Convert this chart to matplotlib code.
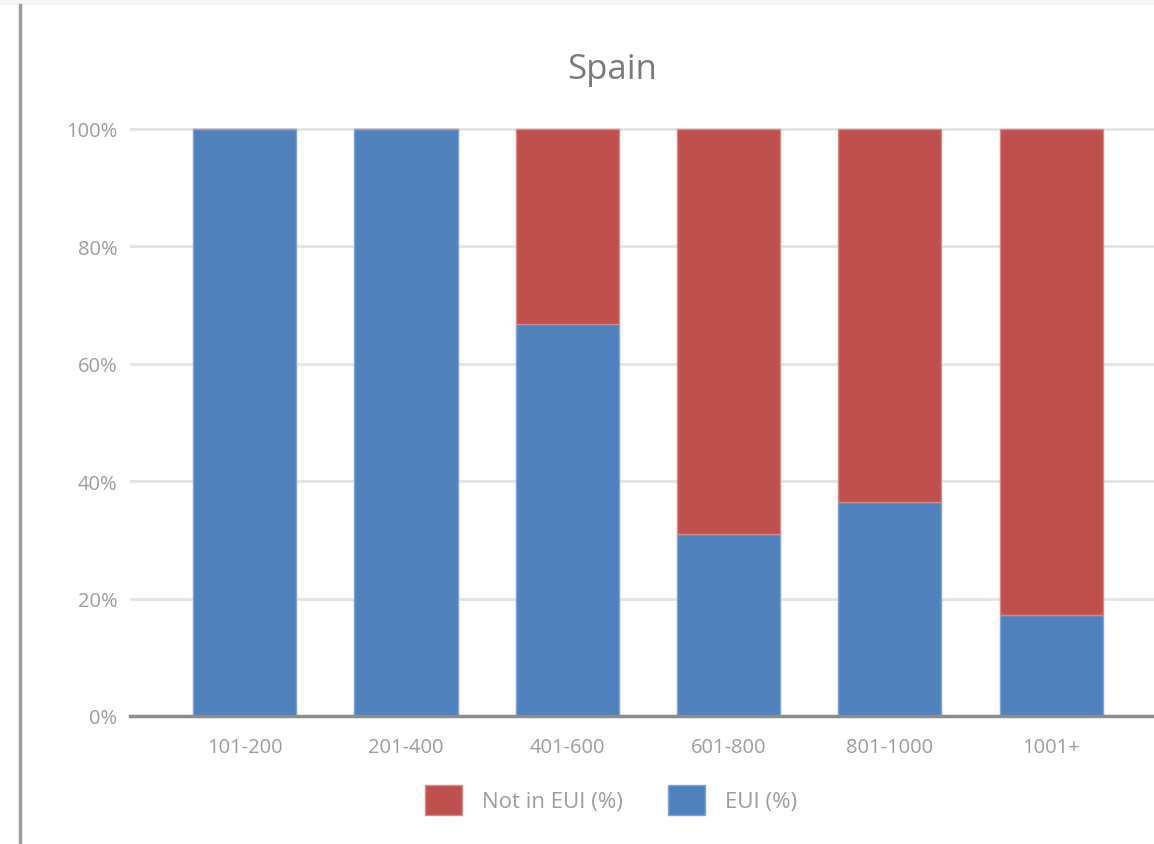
import matplotlib
matplotlib.use("Agg")
import matplotlib.pyplot as plt
from matplotlib.lines import Line2D
from matplotlib.patches import Rectangle
from matplotlib.ticker import FuncFormatter

plt.rcParams['font.family'] = ['Open Sans', 'DejaVu Sans']

categories = ["101-200", "201-400", "401-600", "601-800", "801-1000", "1001+"]
eui = [100.0, 100.0, 66.7, 31.0, 36.4, 17.2]
not_eui = [0.0, 0.0, 33.3, 69.0, 63.6, 82.8]
title = "Spain"
series_names = ["Not in EUI (%)", "EUI (%)"]
yticks = [0, 20, 40, 60, 80, 100]

W, H = 1154, 845
fig = plt.figure(figsize=(W / 100, H / 100), dpi=100)
fig.patch.set_facecolor("white")

# top strip and left border line
fig.add_artist(Rectangle((0, 839 / H), 1, 6 / H, transform=fig.transFigure,
                         facecolor="#f6f6f6", edgecolor="none"))
fig.add_artist(Line2D([19.5 / W, 19.5 / W], [0, 839 / H], transform=fig.transFigure,
                      color="#9a9a9a", lw=2.5))

ax_left, ax_bottom = 130 / W, 128 / H
ax_top = (H - 100) / H
ax = fig.add_axes([ax_left, ax_bottom, 1 - ax_left, ax_top - ax_bottom])

x = list(range(len(categories)))
blue = "#4f81bd"
red = "#c0504d"
bw = 0.64
b1 = ax.bar(x, eui, width=bw, color=blue, edgecolor="#7fa3d3", linewidth=1.0, zorder=3,
            label=series_names[1])
b2 = ax.bar(x, not_eui, bottom=eui, width=bw, color=red, edgecolor="#d38a88", linewidth=1.0,
            zorder=3, label=series_names[0])

ax.set_ylim(0, 105.1)
ax.set_xlim(-0.712, 5.638)
ax.set_yticks(yticks)
ax.yaxis.set_major_formatter(FuncFormatter(lambda v, p: f"{int(v)}%"))
ax.set_xticks(x)
ax.set_xticklabels(categories)
ax.grid(axis="y", color="#e3e3e3", lw=2, zorder=0)
ax.set_axisbelow(True)
for s in ["top", "right", "left"]:
    ax.spines[s].set_visible(False)
ax.spines["bottom"].set_color("#8c8c8c")
ax.spines["bottom"].set_linewidth(2.5)
ax.spines["bottom"].set_zorder(4)
ax.tick_params(axis="both", length=0, colors="#9c9c9c", labelsize=14.5)
ax.tick_params(axis="y", pad=9)
ax.tick_params(axis="x", pad=15)

fig.text(612 / W, (H - 70) / H, title, ha="center", va="center", fontsize=25, color="#7a7a7a")

leg = fig.legend(handles=[b2, b1], labels=series_names, loc="center",
                 bbox_to_anchor=(611 / W, (H - 801) / H), ncol=2, frameon=False,
                 fontsize=16, labelcolor="#9c9c9c", handlelength=1.67, handleheight=1.67,
                 handletextpad=0.9, columnspacing=2.0)

fig.savefig("out.png", dpi=100, facecolor="white")
